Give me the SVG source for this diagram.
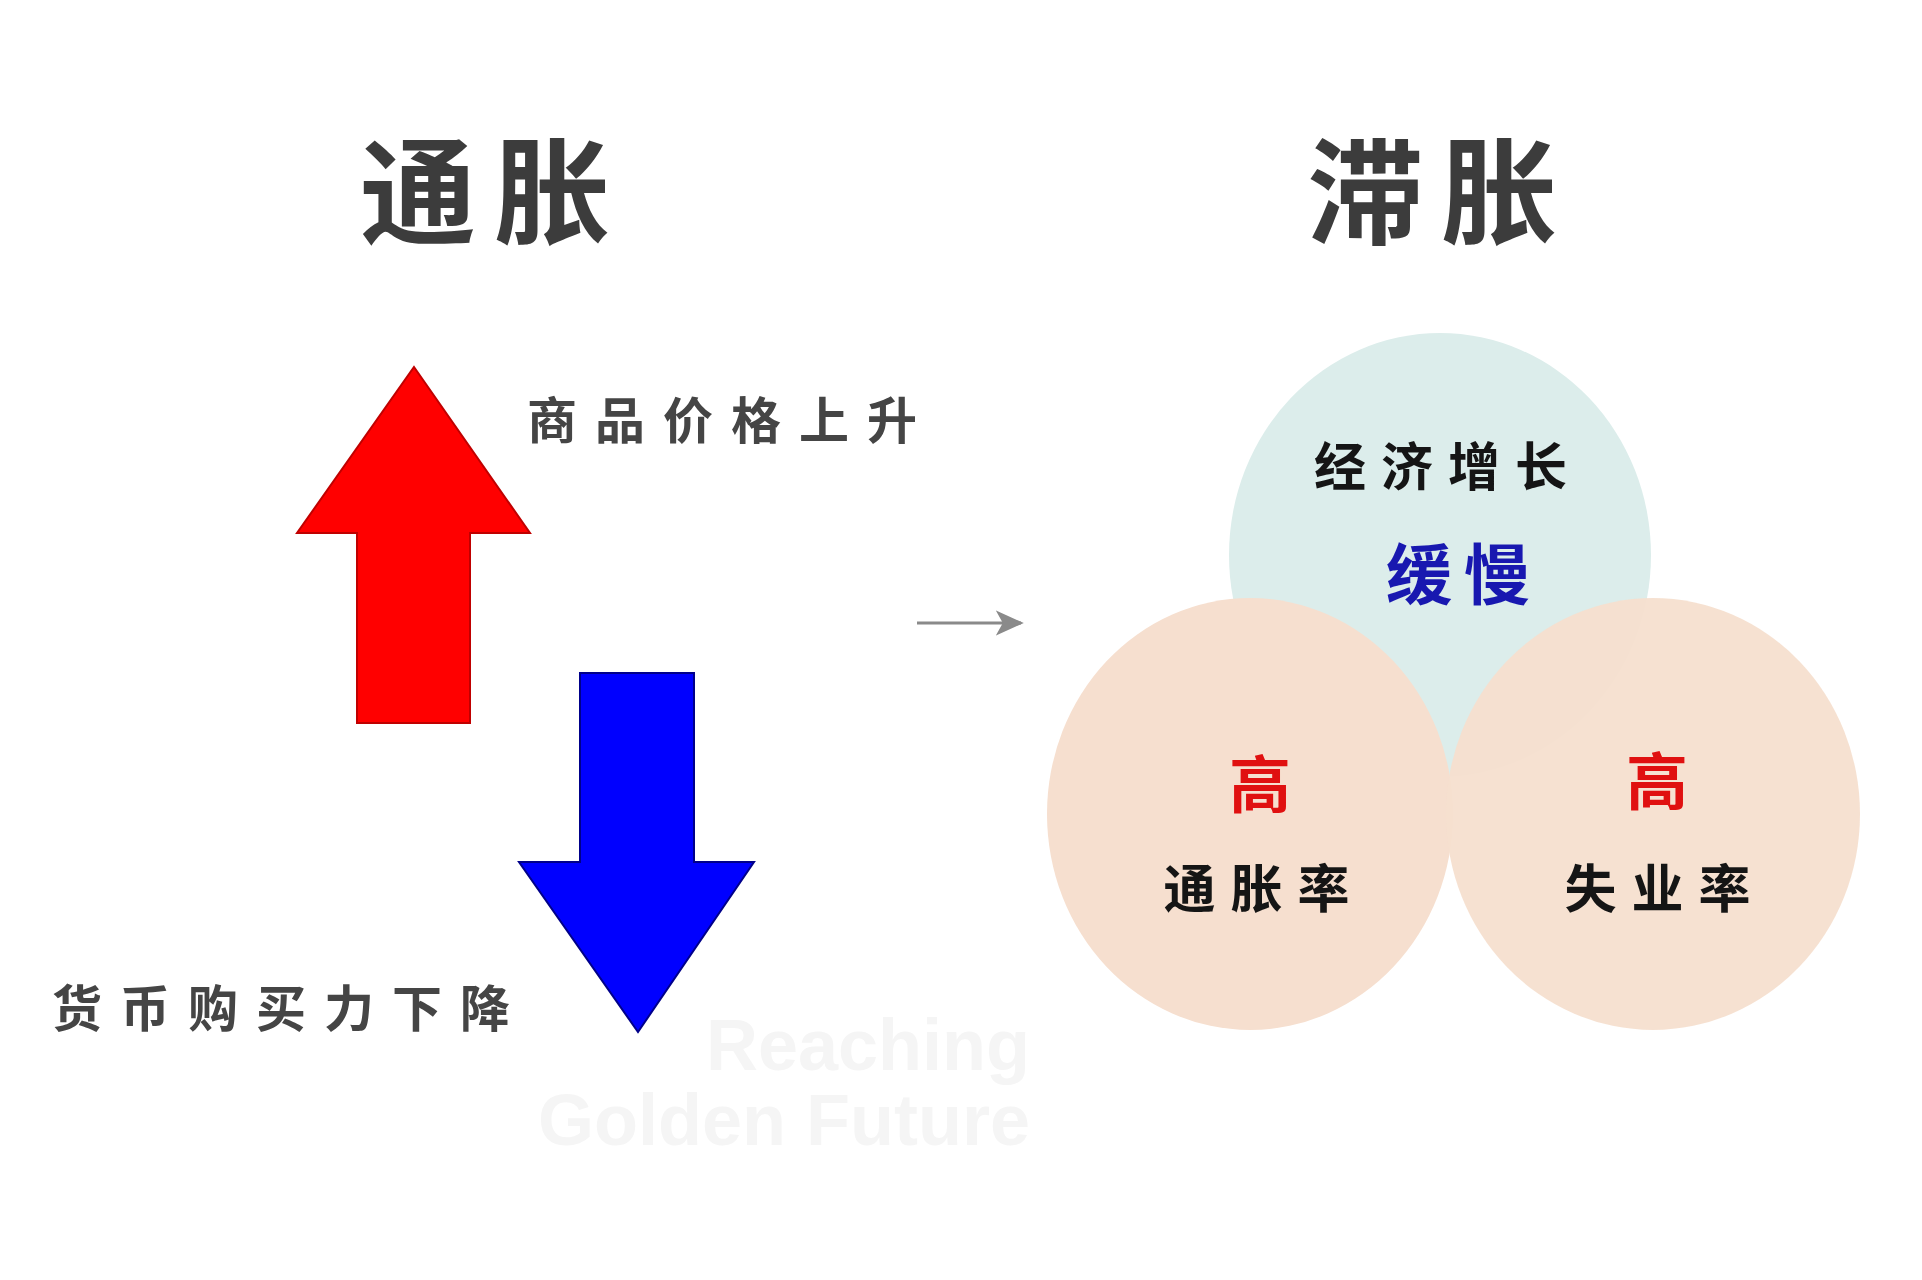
<svg xmlns="http://www.w3.org/2000/svg" width="1922" height="1280" viewBox="0 0 1922 1280">
<defs>
<style>
.t{font-family:"Noto Sans CJK SC","Liberation Sans",sans-serif;font-weight:700;text-anchor:middle;dominant-baseline:central}
.title{font-size:116px;fill:#3c3c3c;letter-spacing:18px}
.lbl{font-size:50px;fill:#454545;letter-spacing:18px}
.in{font-size:52px;fill:#151515;letter-spacing:15px}
.wm{font-family:"Liberation Sans",Arial,sans-serif;font-weight:700;fill:#f5f5f5;font-size:72px}
</style>
<marker id="ah" viewBox="0 0 20 20" refX="18" refY="10" markerWidth="28" markerHeight="28" orient="auto" markerUnits="userSpaceOnUse">
<path d="M0,1 L20,10 L0,19 L5,10 Z" fill="#8a8a8a"/>
</marker>
</defs>
<rect width="1922" height="1280" fill="#ffffff"/>
<g id="watermark">
<text class="wm" x="1030" y="1070" text-anchor="end">Reaching</text>
<text class="wm" x="1030" y="1145" text-anchor="end">Golden Future</text>
</g>
<g id="title-inflation"><text class="t title" x="494" y="184">通胀</text></g>
<g id="title-stagflation"><text class="t title" x="1441" y="184">滞胀</text></g>
<g id="up-arrow">
<polygon points="414,367 530,533 470,533 470,723 357,723 357,533 297,533" fill="#ff0000" stroke="#c00000" stroke-width="2"/>
</g>
<g id="label-up"><text class="t lbl" x="731" y="417">商品价格上升</text></g>
<g id="down-arrow">
<polygon points="580,673 694,673 694,862 754,862 638,1032 519,862 580,862" fill="#0000ff" stroke="#00008a" stroke-width="2"/>
</g>
<g id="label-down"><text class="t lbl" x="290" y="1005">货币购买力下降</text></g>
<g id="connectors">
<line x1="917" y1="623" x2="1021" y2="623" stroke="#8a8a8a" stroke-width="3" marker-end="url(#ah)"/>
</g>
<g id="circle-growth">
<ellipse cx="1440" cy="555" rx="211" ry="222" fill="#dcedeb"/>
<text class="t in" x="1448" y="463">经济增长</text>
<text class="t" x="1464" y="570" style="font-size:66px;fill:#1818b0;letter-spacing:12px">缓慢</text>
</g>
<g id="circle-inflation">
<ellipse cx="1250" cy="814" rx="203" ry="216" fill="#f6dfcf"/>
<text class="t" x="1260" y="781" style="font-size:62px;fill:#e01010">高</text>
<text class="t in" x="1264" y="885">通胀率</text>
</g>
<g id="circle-unemployment">
<ellipse cx="1653" cy="814" rx="207" ry="216" fill="#f6dfcf" fill-opacity="0.95"/>
<text class="t" x="1657" y="778" style="font-size:62px;fill:#e01010">高</text>
<text class="t in" x="1665" y="885">失业率</text>
</g>
</svg>
